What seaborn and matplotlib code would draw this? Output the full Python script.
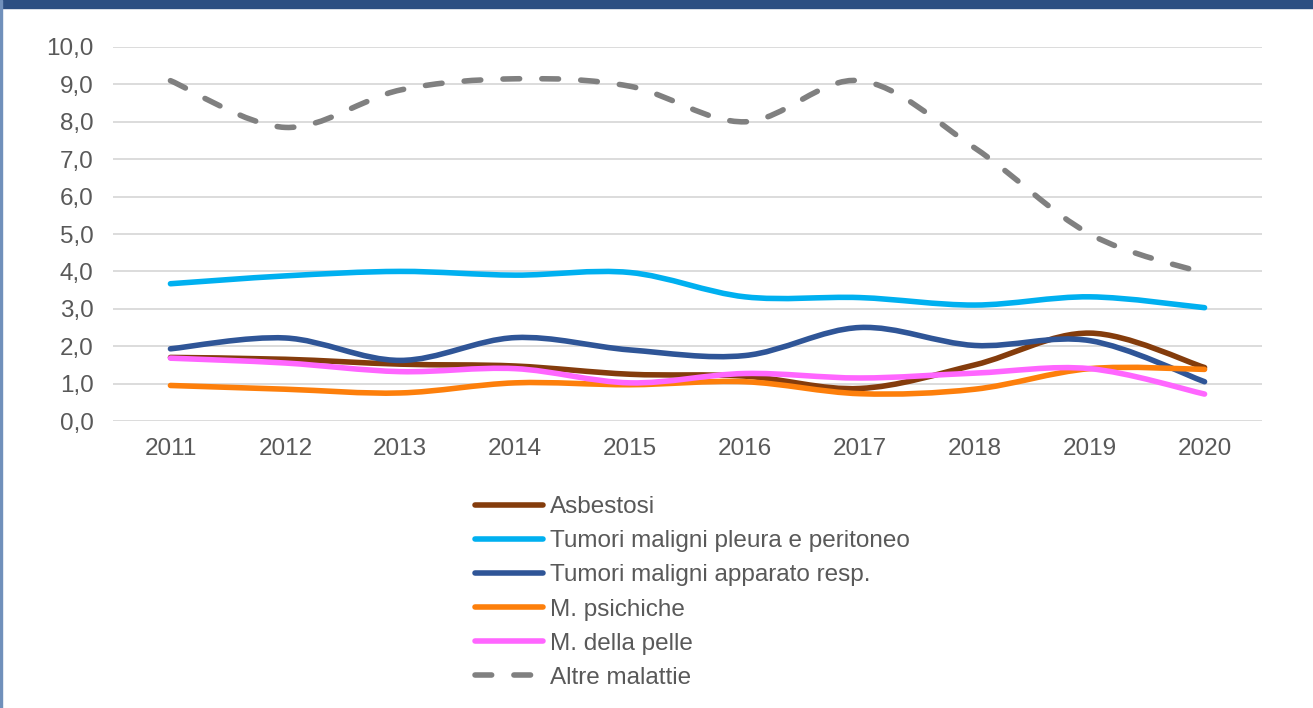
import numpy as np
import pandas as pd
import seaborn as sns
from matplotlib import pyplot as plt
from matplotlib.path import Path
from matplotlib.patches import PathPatch, Rectangle

years = [2011, 2012, 2013, 2014, 2015, 2016, 2017, 2018, 2019, 2020]
asbestosi = [1.70, 1.65, 1.52, 1.47, 1.25, 1.20, 0.87, 1.50, 2.35, 1.43]
pleura = [3.67, 3.88, 4.00, 3.90, 3.97, 3.32, 3.30, 3.10, 3.32, 3.03]
apparato_resp = [1.93, 2.22, 1.62, 2.23, 1.90, 1.75, 2.50, 2.02, 2.15, 1.05]
psichiche = [0.95, 0.85, 0.75, 1.02, 0.97, 1.05, 0.73, 0.85, 1.40, 1.38]
pelle = [1.68, 1.55, 1.32, 1.40, 1.02, 1.27, 1.15, 1.28, 1.40, 0.72]
altre = [9.10, 7.85, 8.85, 9.15, 8.95, 8.00, 9.10, 7.30, 5.00, 3.95]

series = {
    "Asbestosi": asbestosi,
    "Tumori maligni pleura e peritoneo": pleura,
    "Tumori maligni apparato resp.": apparato_resp,
    "M. psichiche": psichiche,
    "M. della pelle": pelle,
    "Altre malattie": altre,
}
colors = ["#843c0c", "#00b0f0", "#2f5597", "#fd7f0b", "#ff66ff", "#808080"]
palette = dict(zip(series, colors))
DASH = (3.0, 4.0)
dash_map = {name: "" for name in series}
dash_map["Altre malattie"] = DASH

df = pd.DataFrame(
    [(name, yr, v) for name, vals in series.items() for yr, v in zip(years, vals)],
    columns=["serie", "anno", "valore"],
)

sns.set_theme(style="white")
plt.rcParams["font.family"] = ["Liberation Sans", "DejaVu Sans"]
plt.rcParams["lines.solid_capstyle"] = "round"
plt.rcParams["lines.dash_capstyle"] = "round"

LW = 4.0
fig = plt.figure(figsize=(13.13, 7.08), dpi=100)
ax = fig.add_axes([113 / 1313, 1 - 421 / 708, (1262 - 113) / 1313, (421 - 47) / 708])

sns.lineplot(
    data=df, x="anno", y="valore", hue="serie", style="serie",
    palette=palette, dashes=dash_map, linewidth=LW, ax=ax,
)


def smooth_path(x, y):
    # Excel-style smoothed line: Catmull-Rom segments as cubic Beziers
    pts = np.column_stack([x, y])
    ext = np.vstack([pts[0], pts, pts[-1]])
    verts = [pts[0]]
    codes = [Path.MOVETO]
    for i in range(len(pts) - 1):
        p0, p1, p2, p3 = ext[i], ext[i + 1], ext[i + 2], ext[i + 3]
        verts += [p1 + (p2 - p0) / 6, p2 - (p3 - p1) / 6, p2]
        codes += [Path.CURVE4] * 3
    return Path(verts, codes)


for line in list(ax.lines):
    x, y = line.get_xdata(), line.get_ydata()
    if len(x) < 2:
        continue
    dashed = line.get_linestyle() not in ("-", "solid")
    patch = PathPatch(
        smooth_path(x, y), fill=False, edgecolor=line.get_color(),
        linewidth=LW, linestyle=(0, DASH) if dashed else "-",
        capstyle="round", joinstyle="round", zorder=3,
    )
    ax.add_patch(patch)
    line.remove()

ax.set_xlim(2010.5, 2020.5)
ax.set_ylim(0, 10)
ax.set_xticks(years)
ax.set_xticklabels([str(y) for y in years])
yt = np.arange(0, 11)
ax.set_yticks(yt)
ax.set_yticklabels([f"{v:.1f}".replace(".", ",") for v in yt])
ax.set_xlabel("")
ax.set_ylabel("")
ax.grid(axis="y", color="#d9d9d9", linewidth=1.3)
ax.set_axisbelow(True)
ax.tick_params(axis="both", length=0, labelsize=17.5, colors="#595959")
ax.tick_params(axis="y", pad=14)
ax.tick_params(axis="x", pad=12)
sns.despine(ax=ax, left=True, bottom=True)

leg = ax.get_legend()
handles = leg.legend_handles
labels = [t.get_text() for t in leg.get_texts()]
leg.remove()
for h in handles:
    h.set_linewidth(LW)
fig.legend(
    handles, labels, loc="upper left", bbox_to_anchor=(475 / 1313, 1 - 496 / 708),
    frameon=False, fontsize=17.5, labelcolor="#595959", handlelength=2.78,
    handletextpad=0.29, labelspacing=0.5, borderpad=0, borderaxespad=0,
)

# banner and left border of the original slide
fig.patches.append(Rectangle((0, 1 - 8 / 708), 1, 8 / 708, transform=fig.transFigure,
                             color="#2c4f82", zorder=10))
fig.patches.append(Rectangle((0, 0), 1.5 / 1313, 1, transform=fig.transFigure,
                             color="#7090bb", zorder=10))

fig.savefig("out.png", dpi=100)
